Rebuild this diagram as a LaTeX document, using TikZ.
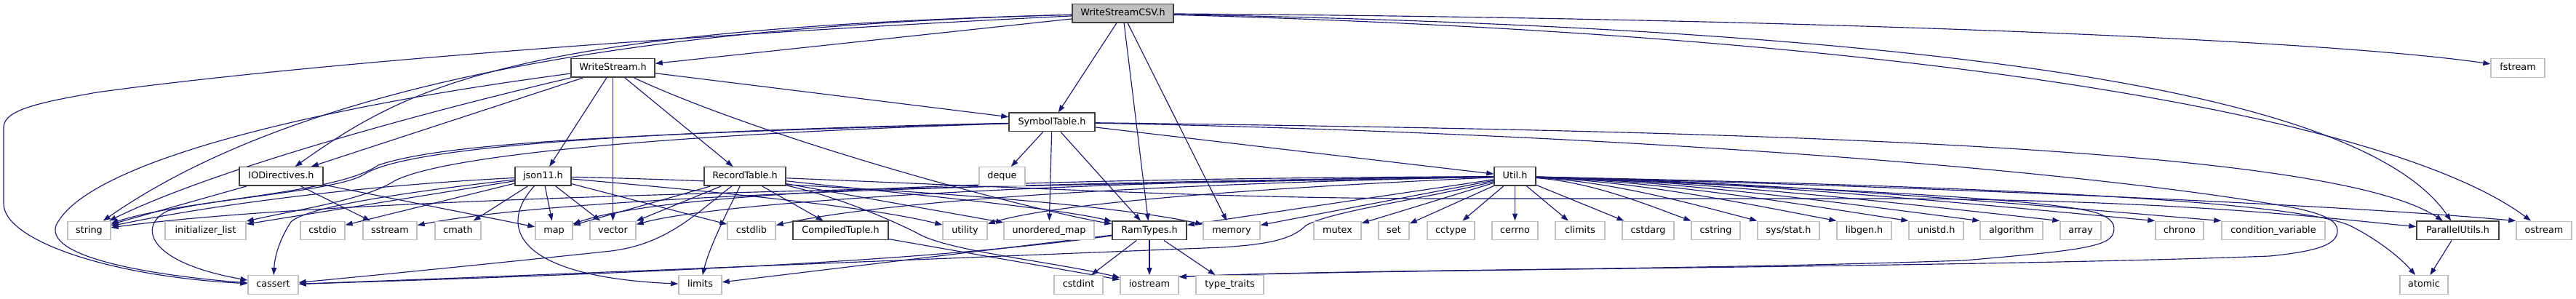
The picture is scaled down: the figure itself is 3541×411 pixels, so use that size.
\documentclass[tikz,border=0pt]{standalone}
\usepackage{fontspec}
\setmainfont{DejaVu Sans}
\usetikzlibrary{arrows.meta}
\definecolor{edgecol}{RGB}{25,25,112}
\definecolor{sysborder}{RGB}{191,191,191}
\definecolor{projborder}{RGB}{64,64,64}
\definecolor{curfill}{RGB}{191,191,191}
\pgfdeclarelayer{bg}
\pgfsetlayers{bg,main}
\begin{document}
\begin{tikzpicture}[x=1pt,y=-1pt,
  box/.style={rectangle, inner sep=0pt, minimum height=25.5pt, text height=9.5pt, text depth=2.6pt,
    font=\fontsize{12.8}{15}\selectfont, text=black},
  sys/.style={box, draw=sysborder, line width=1.4pt, fill=white},
  proj/.style={box, draw=projborder, line width=1.5pt, fill=white},
  cur/.style={box, draw=projborder, line width=1.5pt, fill=curfill},
  e/.style={draw=edgecol, line width=1.15pt, -{Triangle[length=10pt,width=7pt]}}]
\useasboundingbox (0,0) rectangle (3541,411);
% row 0
\node[cur, minimum width=139pt] (csv) at (1543.5,18.5) {WriteStreamCSV.h};
% row 1
\node[proj, minimum width=115pt] (ws) at (842.5,93.5) {WriteStream.h};
\node[sys, minimum width=74pt] (fstream) at (3461,93.5) {fstream};
% row 2
\node[proj, minimum width=118pt] (st) at (1446,168) {SymbolTable.h};
% row 3
\node[proj, minimum width=115pt] (iod) at (386.5,242.5) {IODirectives.h};
\node[proj, minimum width=77pt] (json) at (746.5,242.5) {json11.h};
\node[proj, minimum width=112pt] (rt) at (1024,242.5) {RecordTable.h};
\node[sys, minimum width=63pt] (deque) at (1377.5,242.5) {deque};
\node[proj, minimum width=57pt] (util) at (2082.5,242.5) {Util.h};
% row 4
\node[sys, minimum width=59pt] (string) at (122.5,317) {string};
\node[sys, minimum width=111pt] (initlist) at (282.5,317) {initializer\_list};
\node[sys, minimum width=61pt] (cstdio) at (443.5,317) {cstdio};
\node[sys, minimum width=74pt] (sstream) at (536,317) {sstream};
\node[sys, minimum width=63pt] (cmath) at (629.5,317) {cmath};
\node[sys, minimum width=51pt] (map) at (761.5,317) {map};
\node[sys, minimum width=63pt] (vector) at (842.5,317) {vector};
\node[sys, minimum width=66pt] (cstdlib) at (1033,317) {cstdlib};
\node[proj, minimum width=131pt] (ct) at (1155.5,317) {CompiledTuple.h};
\node[sys, minimum width=61pt] (utility) at (1326.5,317) {utility};
\node[sys, minimum width=124pt] (umap) at (1442,317) {unordered\_map};
\node[proj, minimum width=102pt] (ram) at (1580,317) {RamTypes.h};
\node[sys, minimum width=78pt] (memory) at (1693,317) {memory};
\node[sys, minimum width=65pt] (mutex) at (1838.5,317) {mutex};
\node[sys, minimum width=42pt] (set) at (1916,317) {set};
\node[sys, minimum width=65pt] (cctype) at (1994.5,317) {cctype};
\node[sys, minimum width=63pt] (cerrno) at (2082.5,317) {cerrno};
\node[sys, minimum width=68pt] (climits) at (2172,317) {climits};
\node[sys, minimum width=71pt] (cstdarg) at (2265.5,317) {cstdarg};
\node[sys, minimum width=67pt] (cstring) at (2358.5,317) {cstring};
\node[sys, minimum width=85pt] (sysstat) at (2458.5,317) {sys/stat.h};
\node[sys, minimum width=75pt] (libgen) at (2562.5,317) {libgen.h};
\node[sys, minimum width=75pt] (unistd) at (2661.5,317) {unistd.h};
\node[sys, minimum width=86pt] (algorithm) at (2765,317) {algorithm};
\node[sys, minimum width=56pt] (array) at (2860,317) {array};
\node[sys, minimum width=66pt] (chrono) at (2996,317) {chrono};
\node[sys, minimum width=142pt] (condvar) at (3125,317) {condition\_variable};
\node[proj, minimum width=113pt] (pu) at (3378.5,317) {ParallelUtils.h};
\node[sys, minimum width=76pt] (ostream) at (3497,317) {ostream};
% row 5
\node[sys, minimum width=69pt] (cassert) at (375.5,391.5) {cassert};
\node[sys, minimum width=59pt] (limits) at (962.5,391.5) {limits};
\node[sys, minimum width=67pt] (cstdint) at (1482.5,391.5) {cstdint};
\node[sys, minimum width=80pt] (iostream) at (1580,391.5) {iostream};
\node[sys, minimum width=93pt] (typetraits) at (1690.5,391.5) {type\_traits};
\node[sys, minimum width=66pt] (atomic) at (3332,391.5) {atomic};

\begin{pgfonlayer}{bg}
% WriteStreamCSV.h
\draw[e] (csv) -- (ws);
\draw[e] (csv) .. controls (700,40) and (560,120) .. (iod);
\draw[e] (csv) .. controls (900,35) and (420,110) .. (string);
\draw[e] (csv) .. controls (900,50) and (400,90) .. (133,127) .. controls (60,140) and (5,150) .. (5,175) -- (5,280) .. controls (5,330) and (150,380) .. (cassert);
\draw[e] (csv) -- (st);
\draw[e] (csv) -- (ram);
\draw[e] (csv) -- (memory);
\draw[e] (csv) .. controls (2500,25) and (3200,55) .. (fstream);
\draw[e] (csv) .. controls (2700,40) and (3250,130) .. (pu);
\draw[e] (csv) .. controls (2700,50) and (3300,170) .. (ostream);
% WriteStream.h
\draw[e] (ws) .. controls (600,150) and (300,230) .. (string);
\draw[e] (ws) .. controls (450,145) and (120,220) .. (77,310) .. controls (60,360) and (250,382) .. (cassert);
\draw[e] (ws) -- (iod);
\draw[e] (ws) -- (json);
\draw[e] (ws) -- (vector);
\draw[e] (ws) -- (rt);
\draw[e] (ws) -- (st);
\draw[e] (ws) .. controls (1050,190) and (1400,285) .. (ram);
% IODirectives.h
\draw[e] (iod) -- (string);
\draw[e] (iod) -- (sstream);
\draw[e] (iod) -- (map);
% json11.h
\draw[e] (json) .. controls (500,255) and (300,280) .. (string);
\draw[e] (json) -- (initlist);
\draw[e] (json) -- (cstdio);
\draw[e] (json) .. controls (550,265) and (420,285) .. (400,305) .. controls (390,320) and (378,345) .. (cassert);
\draw[e] (json) -- (cmath);
\draw[e] (json) -- (map);
\draw[e] (json) -- (vector);
\draw[e] (json) .. controls (685,310) and (705,380) .. (limits);
\draw[e] (json) -- (cstdlib);
\draw[e] (json) .. controls (1000,265) and (1200,285) .. (utility);
\draw[e] (json) .. controls (1100,250) and (1500,275) .. (memory);
% RecordTable.h
\draw[e] (rt) -- (map);
\draw[e] (rt) -- (vector);
\draw[e] (rt) .. controls (1000,290) and (975,340) .. (limits);
\draw[e] (rt) .. controls (960,290) and (920,335) .. (840,345) .. controls (700,360) and (500,380) .. (cassert);
\draw[e] (rt) -- (ct);
\draw[e] (rt) -- (umap);
\draw[e] (rt) .. controls (1200,262) and (1450,285) .. (ram);
\draw[e] (rt) .. controls (1150,270) and (1220,300) .. (1260,320) .. controls (1300,345) and (1450,360) .. (iostream);
\draw[e] (rt) .. controls (1500,262) and (1700,273) .. (2000,273) -- (2600,273) .. controls (3000,275) and (3200,300) .. (pu);
% CompiledTuple.h
\draw[e] (ct) -- (iostream);
% SymbolTable.h
\draw[e] (st) .. controls (900,180) and (560,200) .. (500,240) .. controls (460,265) and (250,275) .. (string);
\draw[e] (st) .. controls (900,185) and (600,215) .. (540,250) .. controls (500,275) and (400,290) .. (initlist);
\draw[e] (st) .. controls (800,185) and (600,200) .. (520,227) .. controls (470,262) and (300,272) .. (230,290) .. controls (190,310) and (200,360) .. (cassert);
\draw[e] (st) -- (deque);
\draw[e] (st) -- (umap);
\draw[e] (st) -- (ram);
\draw[e] (st) -- (util);
\draw[e] (st) .. controls (2400,180) and (3200,200) .. (pu);
\draw[e] (st) .. controls (2300,185) and (2900,240) .. (3150,285) .. controls (3200,295) and (3213,305) .. (3213,317) .. controls (3213,335) and (3190,345) .. (3120,352) .. controls (2700,368) and (1850,370) .. (iostream.15);
% Util.h
\draw[e] (util) .. controls (1500,255) and (500,265) .. (string);
\draw[e] (util) .. controls (1500,250) and (800,265) .. (sstream);
\draw[e] (util) .. controls (1500,245) and (930,258) .. (map);
\draw[e] (util) .. controls (1500,248) and (1000,275) .. (vector);
\draw[e] (util) .. controls (1500,255) and (1200,280) .. (cstdlib);
\draw[e] (util) .. controls (1700,260) and (1450,280) .. (utility);
\draw[e] (util) -- (ram);
\draw[e] (util) -- (memory);
\draw[e] (util) .. controls (1950,275) and (1830,290) .. (1795,310) .. controls (1775,330) and (1740,336) .. (1680,340) .. controls (1300,355) and (700,380) .. (cassert);
\draw[e] (util) -- (mutex);
\draw[e] (util) -- (set);
\draw[e] (util) -- (cctype);
\draw[e] (util) -- (cerrno);
\draw[e] (util) -- (climits);
\draw[e] (util) -- (cstdarg);
\draw[e] (util) .. controls (2186,250) and (2261,280) .. (cstring.north west);
\draw[e] (util) .. controls (2218,250) and (2325,280) .. (sysstat.north west);
\draw[e] (util) .. controls (2256,250) and (2401,280) .. (libgen.north west);
\draw[e] (util) .. controls (2291,250) and (2470,280) .. (unistd.north west);
\draw[e] (util) .. controls (2325,250) and (2539,280) .. (algorithm.north west);
\draw[e] (util) .. controls (2363,250) and (2616,280) .. (array.north west);
\draw[e] (util) .. controls (2409,250) and (2707,280) .. (chrono.north west);
\draw[e] (util) .. controls (2441,250) and (2771,280) .. (condvar.north west);
\draw[e] (util) .. controls (2600,255) and (3200,280) .. (ostream.north west);
\draw[e] (util) .. controls (2700,255) and (3150,275) .. (3230,310) .. controls (3270,330) and (3300,355) .. (atomic);
\draw[e] (util) .. controls (2400,255) and (2800,270) .. (2880,292) .. controls (2905,300) and (2908,310) .. (2905,320) .. controls (2900,340) and (2850,345) .. (2700,358) .. controls (2300,372) and (1850,370) .. (iostream.15);
% RamTypes.h
\draw[e] (ram) -- (cstdint);
\draw[e] (ram) -- (iostream);
\draw[e] (ram) -- (typetraits);
\draw[e] (ram) .. controls (1300,355) and (1000,372) .. (cassert);
\draw[e] (ram) -- (limits);
% ParallelUtils.h
\draw[e] (pu) -- (atomic);
\end{pgfonlayer}
\end{tikzpicture}
\end{document}
